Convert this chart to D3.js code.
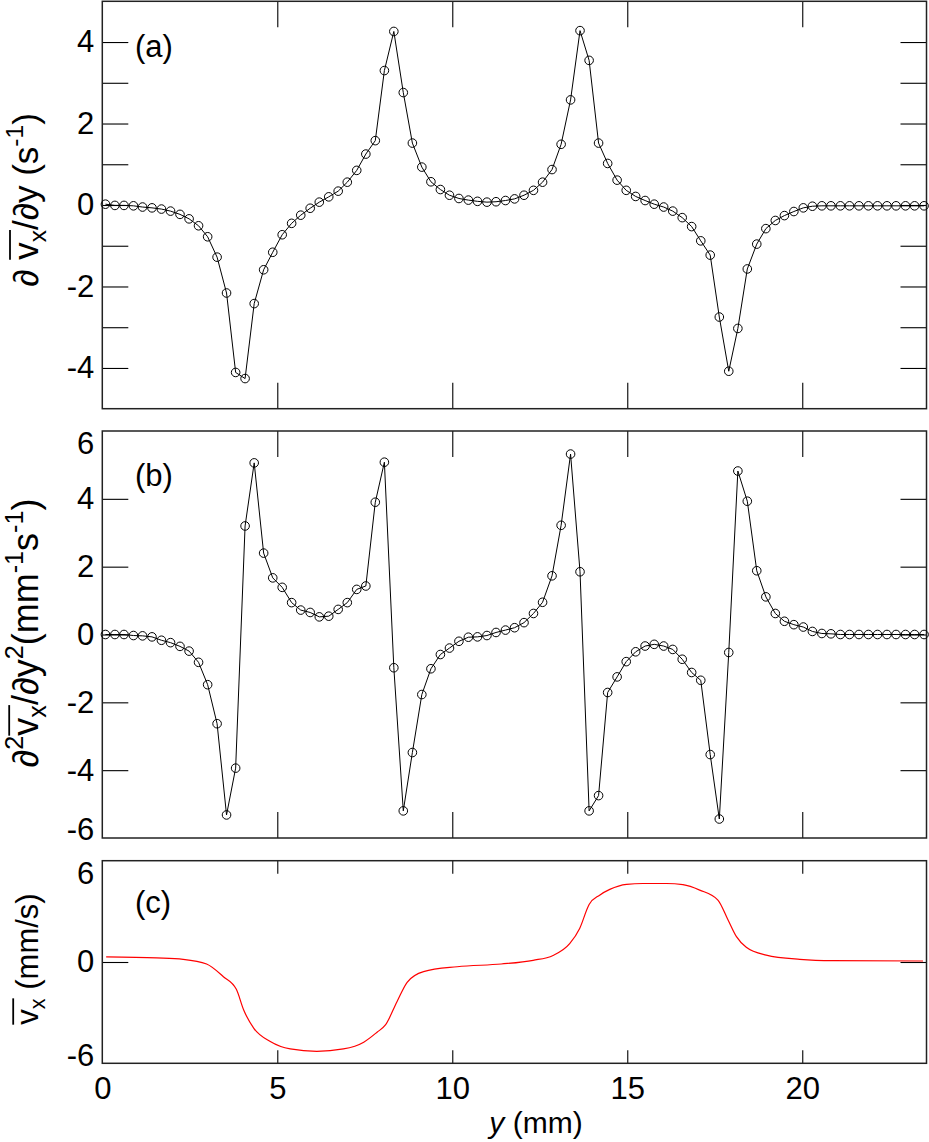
<!DOCTYPE html>
<html>
<head>
<meta charset="utf-8">
<script src="https://cdn.jsdelivr.net/npm/d3@7"></script>
<style>
  html, body { margin: 0; padding: 0; background: #fff; }
  svg { display: block; font-family: "Liberation Sans", Arial, Helvetica, sans-serif; }
</style>
</head>
<body>
<svg id="chart" width="929" height="1142"></svg>
<script>
// ---------------- data ----------------
const yPos = [0.09,0.36,0.62,0.89,1.15,1.42,1.69,1.95,2.22,2.48,2.75,3.01,3.28,3.55,3.81,4.08,4.34,4.61,4.87,5.14,
  5.41,5.67,5.94,6.20,6.47,6.74,7.00,7.27,7.53,7.80,8.06,8.33,8.60,8.86,9.13,9.39,9.66,9.92,10.19,10.46,
  10.72,10.99,11.25,11.52,11.78,12.05,12.32,12.58,12.85,13.11,13.38,13.65,13.91,14.18,14.44,14.71,14.97,15.24,15.51,15.77,
  16.04,16.30,16.57,16.84,17.10,17.37,17.63,17.90,18.16,18.43,18.70,18.96,19.23,19.49,19.76,20.03,20.29,20.56,20.82,21.09,
  21.35,21.62,21.89,22.15,22.42,22.68,22.95,23.21,23.48];

const dvdy = [0.02,-0.01,-0.01,-0.02,-0.05,-0.07,-0.10,-0.15,-0.23,-0.34,-0.51,-0.78,-1.28,-2.16,-4.11,-4.26,-2.42,-1.59,-1.16,-0.73,
  -0.45,-0.25,-0.08,0.07,0.20,0.34,0.56,0.85,1.25,1.58,3.30,4.26,2.76,1.52,0.93,0.57,0.38,0.24,0.16,0.12,
  0.09,0.07,0.08,0.11,0.15,0.24,0.36,0.56,0.87,1.49,2.58,4.28,3.55,1.52,1.02,0.61,0.36,0.21,0.11,0.02,
  -0.05,-0.15,-0.31,-0.53,-0.88,-1.23,-2.75,-4.08,-3.03,-1.57,-0.96,-0.58,-0.38,-0.26,-0.16,-0.07,-0.03,-0.02,-0.02,-0.02,
  -0.02,-0.02,-0.02,-0.02,-0.02,-0.02,-0.02,-0.02,-0.02];

const d2vdy2 = [0,0,0,-0.03,-0.04,-0.07,-0.17,-0.24,-0.35,-0.49,-0.82,-1.48,-2.63,-5.32,-3.94,3.20,5.06,2.40,1.67,1.39,
  0.94,0.72,0.65,0.52,0.54,0.74,0.94,1.33,1.43,3.90,5.08,-0.98,-5.20,-3.48,-1.77,-1.01,-0.59,-0.40,-0.20,-0.08,
  -0.07,-0.03,0.06,0.13,0.20,0.35,0.62,0.95,1.73,3.22,5.32,1.85,-5.20,-4.75,-1.71,-1.25,-0.80,-0.51,-0.34,-0.29,
  -0.34,-0.44,-0.73,-1.12,-1.35,-3.54,-5.44,-0.53,4.82,3.93,1.88,1.11,0.62,0.39,0.29,0.22,0.09,0.03,0.02,0,
  0,0,0,0,0,0,0,0,0];

const velY = [0.11,1.55,2.31,2.98,3.46,3.83,4.04,4.33,4.80,5.37,6.13,6.89,7.47,7.85,8.09,8.42,8.71,9.18,10.14,11.40,
  12.31,12.88,13.36,13.64,13.91,14.21,14.50,14.98,15.45,16.12,16.59,17.07,17.59,17.88,18.12,18.40,18.97,19.93,20.88,23.45];
const velV = [0.30,0.24,0.16,-0.12,-0.87,-1.62,-2.84,-3.93,-4.71,-5.15,-5.29,-5.15,-4.75,-4.16,-3.73,-2.35,-1.20,-0.57,-0.28,-0.12,
  0.10,0.39,1.10,1.99,3.41,3.96,4.30,4.60,4.65,4.65,4.58,4.26,3.67,2.49,1.50,0.87,0.41,0.16,0.08,0.06];

const xTicks = [0,5,10,15,20];
const aTickMarks = [-4,-3,-2,-1,0,1,2,3,4];
const aTickLabels = [-4,-2,0,2,4];
const bTickMarks = [-4,-2,0,2,4];
const bTickLabels = [-6,-4,-2,0,2,4,6];
const cTickMarks = [0];
const cTickLabels = [-6,0,6];

// ---------------- layout ----------------
const svg = d3.select("#chart");
const X0 = 102.3, X1 = 926.5;
const x = d3.scaleLinear().domain([0, 23.55]).range([X0, X1]);

const panels = [
  {key:"a", dom:[-5,5], top:1.3, bot:408.7, marks:aTickMarks, labels:aTickLabels, xt:26, tag:"(a)", tagY:57, labC:200},
  {key:"b", dom:[-6,6], top:431, bot:838, marks:bTickMarks, labels:bTickLabels, xt:26, tag:"(b)", tagY:486, labC:633},
  {key:"c", dom:[-6,6], top:860.7, bot:1063.3, marks:cTickMarks, labels:cTickLabels, xt:13, tag:"(c)", tagY:913, labC:959}
];
panels.forEach(p => { p.y = d3.scaleLinear().domain(p.dom).range([p.bot, p.top]); });

const FS = 31;

panels.forEach(p => {
  const g = svg.append("g");
  const axL = g.append("g").attr("transform", `translate(${X0},0)`)
    .call(d3.axisLeft(p.y).tickValues(p.marks).tickSize(-26).tickFormat(""));
  const axR = g.append("g").attr("transform", `translate(${X1},0)`)
    .call(d3.axisRight(p.y).tickValues(p.marks).tickSize(-26).tickFormat(""));
  const axT = g.append("g").attr("transform", `translate(0,${p.top})`)
    .call(d3.axisTop(x).tickValues(xTicks.slice(1)).tickSize(-p.xt).tickFormat(""));
  const axB = g.append("g").attr("transform", `translate(0,${p.bot})`)
    .call(d3.axisBottom(x).tickValues(xTicks.slice(1)).tickSize(-p.xt).tickFormat(""));
  [axL, axR, axT, axB].forEach(a => { a.select(".domain").remove(); a.selectAll("line").attr("stroke", "#000").attr("stroke-width", 1.1); });

  const lab = g.append("g").attr("transform", `translate(${X0},0)`)
    .call(d3.axisLeft(p.y).tickValues(p.labels).tickSize(0).tickPadding(8).tickFormat(d3.format("d")));
  lab.select(".domain").remove();
  lab.selectAll("text").attr("font-size", FS).attr("font-family", null).attr("fill", "#000")
    .attr("transform", d => d === p.dom[1] ? "translate(0,13)" : d === p.dom[0] ? "translate(0,-8)" : null)
    .text(d => d < 0 ? "-" + Math.abs(d) : d);

  g.append("rect").attr("x", X0).attr("y", p.top).attr("width", X1 - X0).attr("height", p.bot - p.top)
    .attr("fill", "none").attr("stroke", "#222").attr("stroke-width", 1.5);

  g.append("text").attr("x", 135).attr("y", p.tagY).attr("font-size", 31).text(p.tag);
});

const pc = panels[2];
const xl = svg.append("g").attr("transform", `translate(0,${pc.bot})`)
  .call(d3.axisBottom(x).tickValues(xTicks).tickSize(0).tickPadding(14).tickFormat(d3.format("d")));
xl.select(".domain").remove();
xl.selectAll("text").attr("font-size", FS).attr("font-family", null).attr("fill", "#000");

// ---------------- data marks ----------------
function drawSeries(p, vals) {
  const pts = yPos.map((d, i) => [d, vals[i]]);
  const line = d3.line().x(d => x(d[0])).y(d => p.y(d[1]));
  svg.append("path").datum(pts).attr("d", line).attr("fill", "none").attr("stroke", "#000").attr("stroke-width", 1);
  svg.append("g").selectAll("circle").data(pts).join("circle")
    .attr("cx", d => x(d[0])).attr("cy", d => p.y(d[1])).attr("r", 4.3)
    .attr("fill", "none").attr("stroke", "#000").attr("stroke-width", 1);
}
drawSeries(panels[0], dvdy);
drawSeries(panels[1], d2vdy2);

const velPts = velY.map((d, i) => [d, velV[i]]);
svg.append("path").datum(velPts)
  .attr("d", d3.line().x(d => x(d[0])).y(d => pc.y(d[1])).curve(d3.curveMonotoneX))
  .attr("fill", "none").attr("stroke", "#ff0000").attr("stroke-width", 1.2);

// ---------------- rich labels ----------------
function richText(g, parts, fs) {
  const t = g.append("text").attr("text-anchor", "middle").attr("font-size", fs).attr("fill", "#000");
  let cur = 0, idx = 0;
  const over = [];
  parts.forEach(pt => {
    const shift = pt.sub ? 0.22 * fs : pt.sup ? -0.42 * fs : 0;
    const ts = t.append("tspan").attr("dy", shift - cur).text(pt.t);
    if (pt.sub || pt.sup) ts.attr("font-size", 0.7 * fs);
    if (pt.it) ts.attr("font-style", "italic");
    cur = shift;
    if (pt.over) for (let k = 0; k < pt.t.length; k++) over.push(idx + k);
    idx += pt.t.length;
  });
  if (over.length) {
    const n = t.node();
    const e0 = n.getExtentOfChar(over[0]);
    const e1 = n.getExtentOfChar(over[over.length - 1]);
    g.append("line").attr("x1", e0.x).attr("x2", e1.x + e1.width)
      .attr("y1", -0.8 * fs).attr("y2", -0.8 * fs).attr("stroke", "#000").attr("stroke-width", 1.8);
  }
  return t;
}

const labA = svg.append("g").attr("transform", `translate(38,${panels[0].labC}) rotate(-90)`);
richText(labA, [{t:"\u2202 "},{t:"v",over:1},{t:"x",sub:1,over:1},{t:"/\u2202y (s"},{t:"-1",sup:1},{t:")"}], 35);
const labB = svg.append("g").attr("transform", `translate(38,${panels[1].labC}) rotate(-90)`);
richText(labB, [{t:"\u2202"},{t:"2",sup:1},{t:"v",over:1},{t:"x",sub:1,over:1},{t:"/\u2202y"},{t:"2",sup:1},{t:"(mm"},{t:"-1",sup:1},{t:"s"},{t:"-1",sup:1},{t:")"}], 36);
const labC = svg.append("g").attr("transform", `translate(38,${panels[2].labC}) rotate(-90)`);
richText(labC, [{t:"v",over:1},{t:"x",sub:1,over:1},{t:" (mm/s)"}], 31);

const xlab = svg.append("g").attr("transform", "translate(536,1133)");
richText(xlab, [{t:"y",it:1},{t:" (mm)"}], 30);
</script>
</body>
</html>
